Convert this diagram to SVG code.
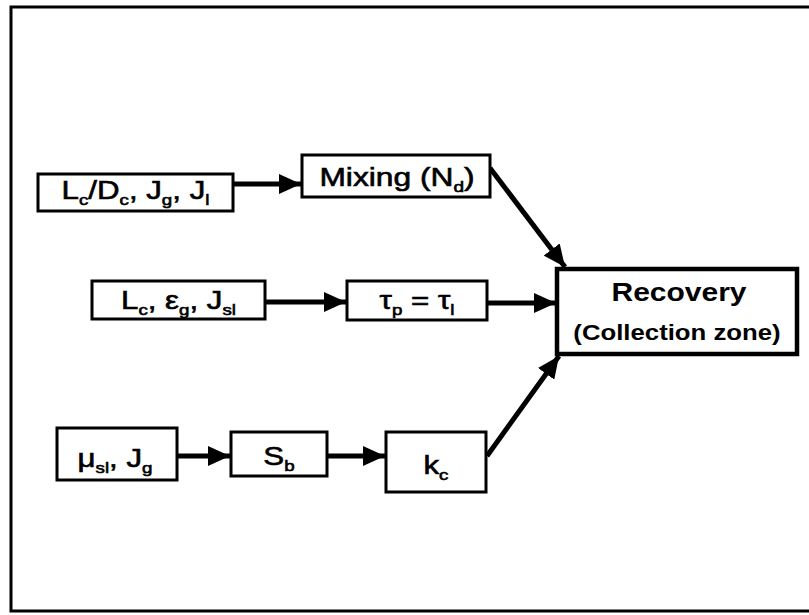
<svg xmlns="http://www.w3.org/2000/svg" width="809" height="615" viewBox="0 0 809 615">
<style>
.box{fill:#fff;stroke:#000;stroke-width:3}
.rec{fill:#fff;stroke:#000;stroke-width:4.5}
.lbl{font-family:"Liberation Sans",Arial,sans-serif;font-size:25px;fill:#000;stroke:#000;stroke-width:0.6;text-anchor:middle}
.bold{font-family:"Liberation Sans",Arial,sans-serif;font-weight:bold;fill:#000;text-anchor:middle}
.sub{font-size:15px}
.conn{stroke:#000;stroke-width:5;fill:none}
</style>
<defs>
<marker id="ah" markerUnits="userSpaceOnUse" markerWidth="24" markerHeight="20" refX="22" refY="10" orient="auto">
<path d="M0,0 L22,10 L0,20 Z" fill="#000"/>
</marker>
</defs>
<rect x="11" y="7" width="812" height="604" fill="#fff" stroke="#000" stroke-width="3"/>
<g id="connectors">
<line class="conn" x1="233" y1="184" x2="301" y2="184" marker-end="url(#ah)"/>
<line class="conn" x1="265" y1="302" x2="346" y2="302" marker-end="url(#ah)"/>
<line class="conn" x1="487" y1="303" x2="556" y2="303" marker-end="url(#ah)"/>
<line class="conn" x1="490" y1="168" x2="565" y2="267" marker-end="url(#ah)"/>
<line class="conn" x1="177" y1="456" x2="230" y2="456" marker-end="url(#ah)"/>
<line class="conn" x1="327" y1="456" x2="385" y2="456" marker-end="url(#ah)"/>
<line class="conn" x1="487" y1="456" x2="559" y2="356" marker-end="url(#ah)"/>
</g>
<g id="n-lcdc">
<rect class="box" x="38" y="174" width="195" height="37"/>
<g transform="translate(135.5,199) scale(1.25,1)"><text class="lbl">L<tspan class="sub" dy="6">c</tspan><tspan dy="-6">/D</tspan><tspan class="sub" dy="6">c</tspan><tspan dy="-6">, J</tspan><tspan class="sub" dy="6">g</tspan><tspan dy="-6">, J</tspan><tspan class="sub" dy="6">l</tspan></text></g>
</g>
<g id="n-mixing">
<rect class="box" x="302" y="155" width="188" height="42"/>
<g transform="translate(397,186) scale(1.27,1)"><text class="lbl">Mixing (N<tspan class="sub" dy="6">d</tspan><tspan dy="-6">)</tspan></text></g>
</g>
<g id="n-lceg">
<rect class="box" x="92" y="281" width="173" height="38"/>
<g transform="translate(178.5,309) scale(1.25,1)"><text class="lbl">L<tspan class="sub" dy="6">c</tspan><tspan dy="-6">, ε</tspan><tspan class="sub" dy="6">g</tspan><tspan dy="-6">, J</tspan><tspan class="sub" dy="6">sl</tspan></text></g>
</g>
<g id="n-tau">
<rect class="box" x="347" y="281" width="140" height="39"/>
<g transform="translate(417,309) scale(1.25,1)"><text class="lbl">τ<tspan class="sub" dy="6">p</tspan><tspan dy="-6"> = τ</tspan><tspan class="sub" dy="6">l</tspan></text></g>
</g>
<g id="n-recovery">
<rect class="rec" x="557" y="269" width="240" height="85"/>
<g transform="translate(679,301) scale(1.2,1)"><text class="bold" font-size="25">Recovery</text></g>
<g transform="translate(677,340) scale(1.12,1)"><text class="bold" font-size="23">(Collection zone)</text></g>
</g>
<g id="n-musl">
<rect class="box" x="57" y="428" width="120" height="52"/>
<g transform="translate(115,467) scale(1.25,1)"><text class="lbl">μ<tspan class="sub" dy="6">sl</tspan><tspan dy="-6">, J</tspan><tspan class="sub" dy="6">g</tspan></text></g>
</g>
<g id="n-sb">
<rect class="box" x="231" y="432" width="96" height="44"/>
<g transform="translate(279,465) scale(1.25,1)"><text class="lbl">S<tspan class="sub" dy="6">b</tspan></text></g>
</g>
<g id="n-kc">
<rect class="box" x="386" y="432" width="100" height="60"/>
<g transform="translate(436,474) scale(1.25,1)"><text class="lbl">k<tspan class="sub" dy="6">c</tspan></text></g>
</g>
</svg>
